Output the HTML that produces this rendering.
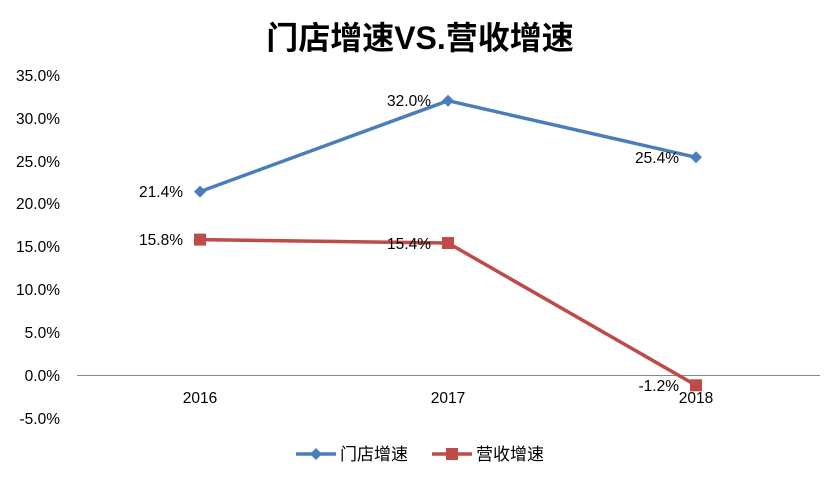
<!DOCTYPE html>
<html><head><meta charset="utf-8"><style>
html,body{margin:0;padding:0;background:#fff;}
</style></head><body>
<svg width="840" height="480" xmlns="http://www.w3.org/2000/svg" font-family="'Liberation Sans','Noto Sans CJK SC',sans-serif">
<rect width="840" height="480" fill="#fff"/>
<text x="420" y="49" text-anchor="middle" font-size="32" font-weight="bold" fill="#000">门店增速VS.营收增速</text>
<g font-size="15.5" fill="#000" text-anchor="end">
<text x="60" y="81">35.0%</text>
<text x="60" y="124">30.0%</text>
<text x="60" y="167">25.0%</text>
<text x="60" y="209">20.0%</text>
<text x="60" y="252">15.0%</text>
<text x="60" y="295">10.0%</text>
<text x="60" y="338">5.0%</text>
<text x="60" y="381">0.0%</text>
<text x="60" y="424">-5.0%</text>
</g>
<line x1="77" y1="375.5" x2="820" y2="375.5" stroke="#888" stroke-width="1"/>
<g font-size="15.5" fill="#000" text-anchor="middle">
<text x="200" y="403">2016</text>
<text x="448" y="403">2017</text>
<text x="696" y="403">2018</text>
</g>
<polyline points="200,191.6 448,100.7 696,157.3" fill="none" stroke="#4a7ebb" stroke-width="3.5"/>
<g fill="#4a7ebb">
<polygon points="200,185.6 206,191.6 200,197.6 194,191.6"/>
<polygon points="448,94.7 454,100.7 448,106.7 442,100.7"/>
<polygon points="696,151.3 702,157.3 696,163.3 690,157.3"/>
</g>
<polyline points="200,239.6 448,243 696,385.3" fill="none" stroke="#be4b48" stroke-width="3.5"/>
<g fill="#be4b48">
<rect x="194" y="233.6" width="12" height="12"/>
<rect x="442" y="237" width="12" height="12"/>
<rect x="690" y="379.3" width="12" height="12"/>
</g>
<g font-size="15.5" fill="#000" text-anchor="end">
<text x="183" y="197">21.4%</text>
<text x="431" y="106">32.0%</text>
<text x="679" y="163">25.4%</text>
<text x="183" y="245">15.8%</text>
<text x="431" y="249">15.4%</text>
<text x="679" y="391">-1.2%</text>
</g>
<line x1="296" y1="454" x2="336" y2="454" stroke="#4a7ebb" stroke-width="3.5"/>
<polygon points="316,448 322,454 316,460 310,454" fill="#4a7ebb"/>
<text x="340" y="460" font-size="17">门店增速</text>
<line x1="432" y1="454" x2="472" y2="454" stroke="#be4b48" stroke-width="3.5"/>
<rect x="446" y="448" width="12" height="12" fill="#be4b48"/>
<text x="476" y="460" font-size="17">营收增速</text>
</svg>
</body></html>
